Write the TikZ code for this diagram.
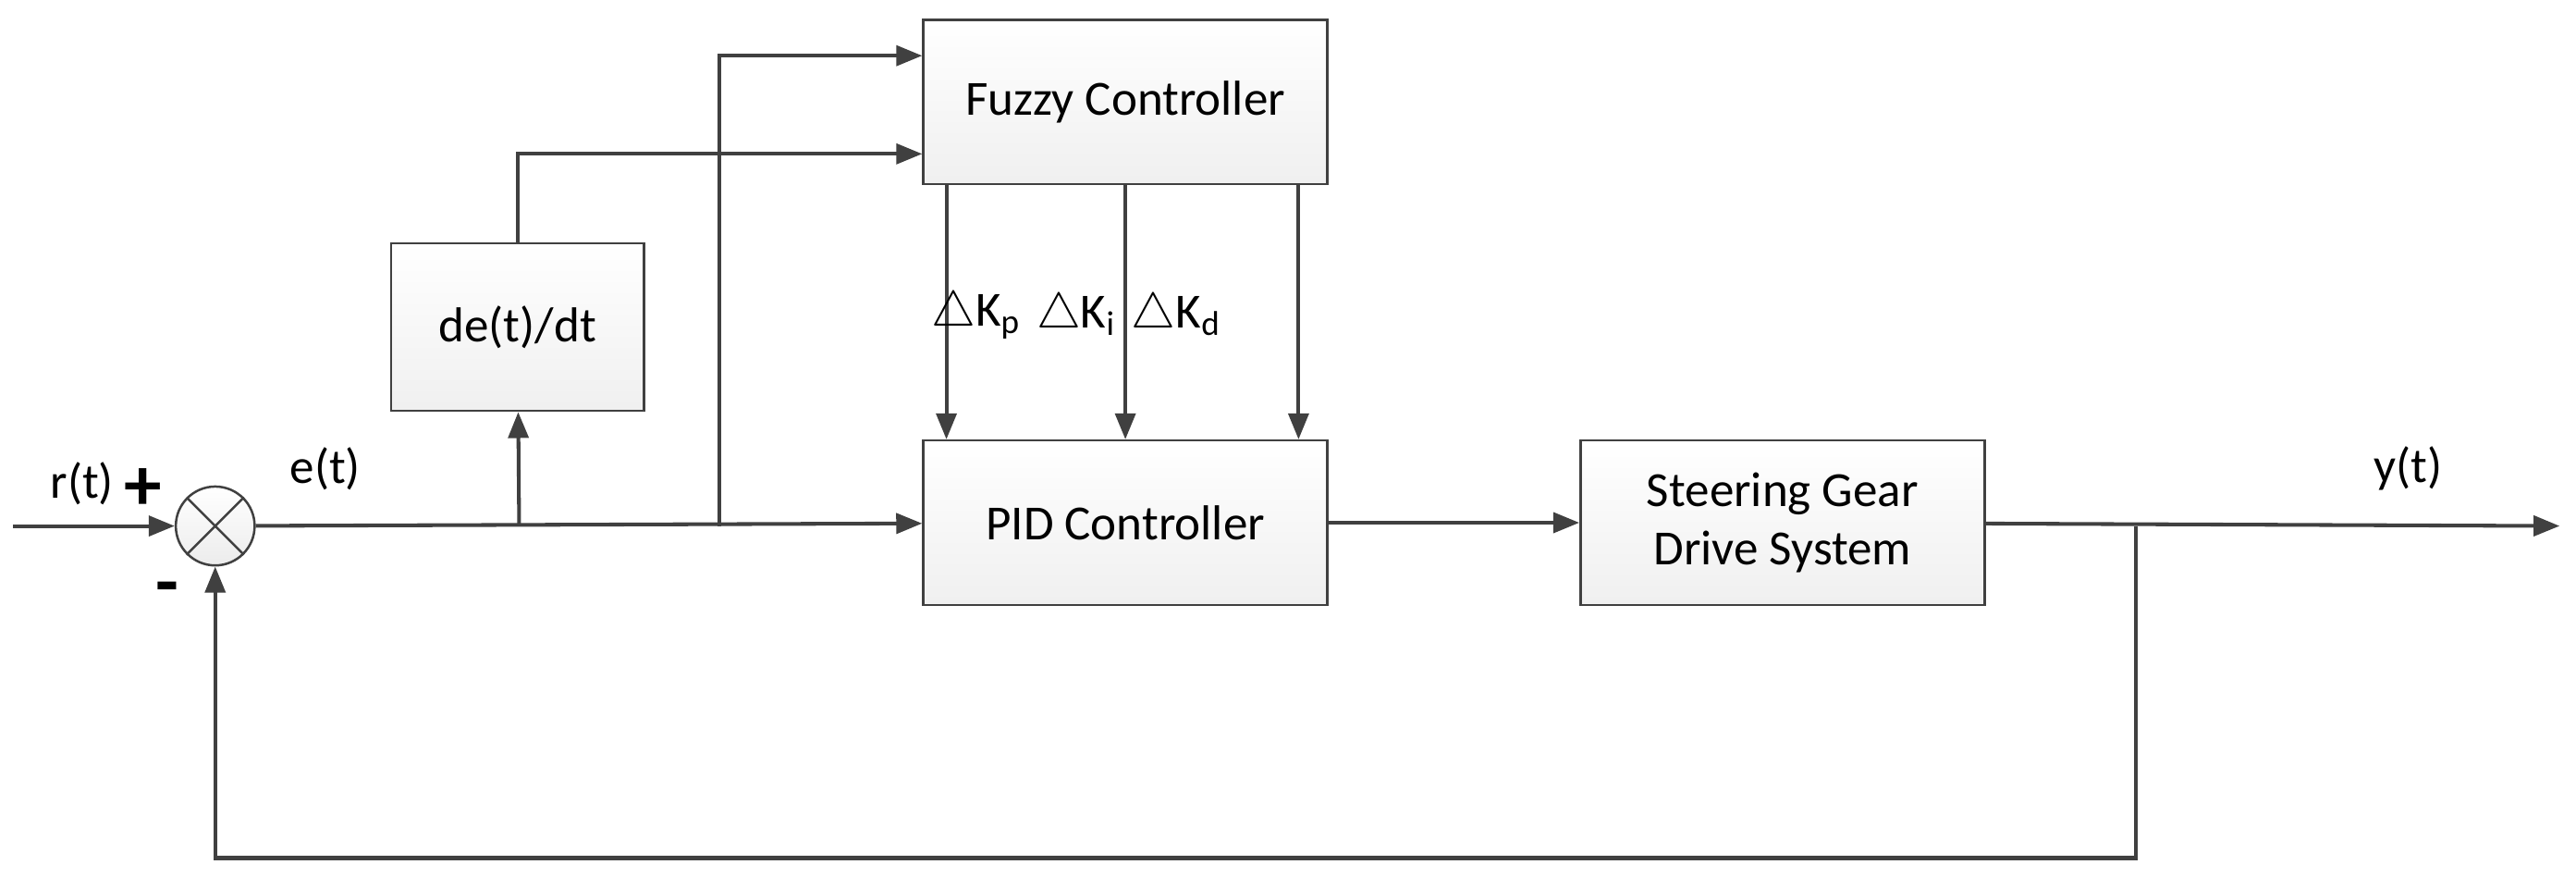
\documentclass[tikz,border=0pt]{standalone}
\usepackage{fontspec}
\setmainfont{Carlito}
\usetikzlibrary{arrows.meta}
\definecolor{ln}{HTML}{404040}
\begin{document}
\begin{tikzpicture}[x=0.02cm,y=-0.02cm,
  blk/.style={draw=ln,line width=0.8pt,top color=white,bottom color=gray!12,minimum width=4.92cm,minimum height=2cm,font=\fontsize{17}{20}\selectfont,align=center},
  con/.style={draw=ln,line width=1.3pt,-{Triangle[length=9pt,width=7pt]}},
  lab/.style={font=\fontsize{17}{20}\selectfont,text=black}]
\useasboundingbox (0,0) rectangle (1568,533);
\node[blk] (fuzzy) at (685,62) {Fuzzy Controller};
\node[blk] (pid) at (685,318) {PID Controller};
\node[blk] (steer) at (1085,318) {Steering Gear\\Drive System};
\node[blk,minimum width=3.08cm,minimum height=2.04cm] (dedt) at (315,199) {de(t)/dt};
\node[circle,draw=ln,line width=0.8pt,top color=white,bottom color=gray!15,minimum size=0.96cm,inner sep=0pt] (sum) at (131,320) {};
\draw[ln,line width=0.8pt] (sum.45)--(sum.225) (sum.135)--(sum.315);
\coordinate (in) at (8,320);
\coordinate (b1) at (316,320);
\coordinate (b2) at (438,320);
\coordinate (b3) at (1300,320);
\coordinate (out) at (1558,320);
\coordinate (fb) at (1300,522);
\coordinate (fb2) at (131,522);
\draw[con] (in)--(sum);
\draw[con] (sum)--(pid);
\draw[con] (b1)--(dedt);
\draw[con] (dedt.north) |- ([yshift=-18]fuzzy.west);
\draw[con] (b2) |- ([yshift=16]fuzzy.west);
\draw[con] ([xshift=-62]fuzzy.south)--([xshift=-62]pid.north);
\draw[con] (fuzzy.south)--(pid.north);
\draw[con] ([xshift=60]fuzzy.south)--([xshift=60]pid.north);
\draw[con] (pid)--(steer);
\draw[con] (steer)--(out);
\draw[con] (b3)--(fb)--(fb2)--(sum);
\node[lab] (r) at (50,294) {r(t)};
\node[font=\bfseries\fontsize{26}{28}\selectfont] (plus) at (87,298) {+};
\node[font=\bfseries\fontsize{26}{28}\selectfont] (minus) at (102,362) {-};
\node[lab] (e) at (198,285) {e(t)};
\node[lab] (y) at (1466,285) {y(t)};
\node[lab] (kp) at (594,192) {$\bigtriangleup$K\textsubscript{p}};
\node[lab] (ki) at (655,192) {$\bigtriangleup$K\textsubscript{i}};
\node[lab] (kd) at (716,192) {$\bigtriangleup$K\textsubscript{d}};
\end{tikzpicture}
\end{document}
